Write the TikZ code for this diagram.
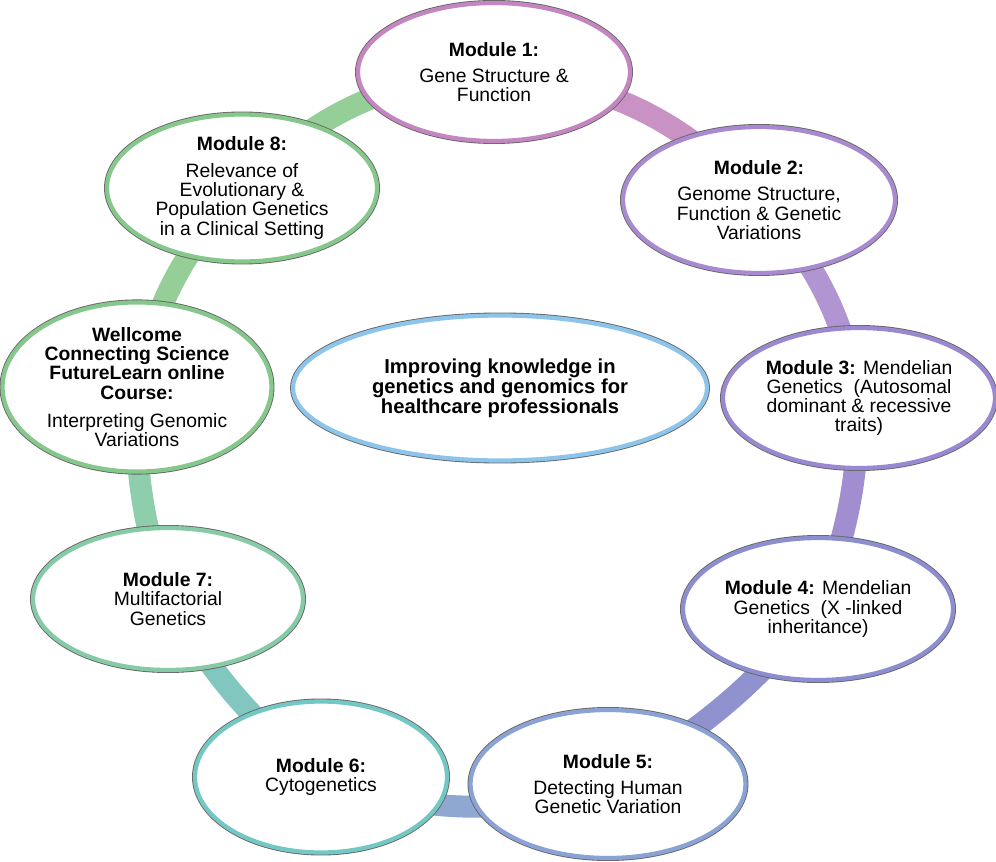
\documentclass[tikz,border=0pt]{standalone}
\usepackage{fontspec}
\setmainfont{Liberation Sans}
\usetikzlibrary{shapes.geometric,backgrounds}

\definecolor{pinkA}{HTML}{C386C0}
\definecolor{pinkB}{HTML}{C892C4}
\definecolor{lilacA}{HTML}{A98AD0}
\definecolor{lilacB}{HTML}{B194D2}
\definecolor{violetA}{HTML}{9A88D0}
\definecolor{violetB}{HTML}{A08ED0}
\definecolor{indigoA}{HTML}{8D8ED0}
\definecolor{indigoB}{HTML}{9092D0}
\definecolor{blueA}{HTML}{8AA2D4}
\definecolor{blueB}{HTML}{8EA8D2}
\definecolor{tealA}{HTML}{74C8C4}
\definecolor{tealB}{HTML}{82C6C0}
\definecolor{mintA}{HTML}{86CAA6}
\definecolor{mintB}{HTML}{8ECEAC}
\definecolor{greenA}{HTML}{86C88C}
\definecolor{greenB}{HTML}{96CE98}
\definecolor{skyA}{HTML}{8CC4EC}

\begin{document}
\begin{tikzpicture}[x=0.02cm, y=-0.02cm,
  every node/.style={ellipse, fill=white, inner sep=0pt, outer sep=0pt, align=center, font=\fontsize{11}{11}\selectfont},
  module/.style={draw=#1, line width=2.4pt, preaction={draw=black!60, line width=3.4pt}},
  band/.style={draw=#1, line width=12.5pt}]
\useasboundingbox (0,0) rectangle (996,861);

\node[module=pinkA, minimum width=5.44cm, minimum height=2.76cm] (m1) at (494,72) {\textbf{Module 1:}\\[4pt] Gene Structure \&\\ Function};
\node[module=lilacA, minimum width=5.44cm, minimum height=2.92cm] (m2) at (759,200) {\textbf{Module 2:}\\[4pt] Genome Structure,\\ Function \& Genetic\\ Variations};
\node[module=violetA, minimum width=5.44cm, minimum height=2.80cm] (m3) at (859,398) {\textbf{Module 3:} Mendelian\\ Genetics~ (Autosomal\\ dominant \& recessive\\ traits)};
\node[module=indigoA, minimum width=5.40cm, minimum height=2.84cm] (m4) at (818,609) {\textbf{Module 4:} Mendelian\\ Genetics~ (X -linked\\ inheritance)};
\node[module=blueA, minimum width=5.50cm, minimum height=2.96cm] (m5) at (608,784) {\textbf{Module 5:}\\[4pt] Detecting Human\\ Genetic Variation};
\node[module=tealA, minimum width=5.04cm, minimum height=3.02cm] (m6) at (321,777) {\textbf{Module 6:}\\ Cytogenetics};
\node[module=mintA, minimum width=5.40cm, minimum height=2.84cm] (m7) at (168,599) {\textbf{Module 7:}\\ Multifactorial\\ Genetics};
\node[module=greenA, minimum width=5.38cm, minimum height=2.94cm] (wcs) at (137,387) {\textbf{Wellcome}\\ \textbf{Connecting Science}\\ \textbf{FutureLearn online}\\ \textbf{Course:}\\[5pt] Interpreting Genomic\\ Variations};
\node[module=greenA, minimum width=5.40cm, minimum height=2.94cm] (m8) at (242,188) {\textbf{Module 8:}\\[4pt] Relevance of\\ Evolutionary \&\\ Population Genetics\\ in a Clinical Setting};

\node[module=skyA, minimum width=8.28cm, minimum height=2.90cm, font=\fontsize{11.5}{11.5}\selectfont\bfseries] (aim) at (500,388) {Improving knowledge in\\ genetics and genomics for\\ healthcare professionals};

\begin{scope}[on background layer]
\draw[band=pinkB] (m1.center) to[bend left=20] (m2.center);
\draw[band=lilacB] (m2.center) to[bend left=15] (m3.center);
\draw[band=violetB] (m3.center) to[bend left=10] (m4.center);
\draw[band=indigoB] (m4.center) to[bend left=10] (m5.center);
\draw[band=blueB] (m5.center) to[bend left=18] (m6.center);
\draw[band=tealB] (m6.center) to[bend left=10] (m7.center);
\draw[band=mintB] (m7.center) to[bend left=10] (wcs.center);
\draw[band=greenB] (wcs.center) to[bend left=15] (m8.center);
\draw[band=greenB] (m8.center) to[bend left=20] (m1.center);
\end{scope}
\end{tikzpicture}
\end{document}
